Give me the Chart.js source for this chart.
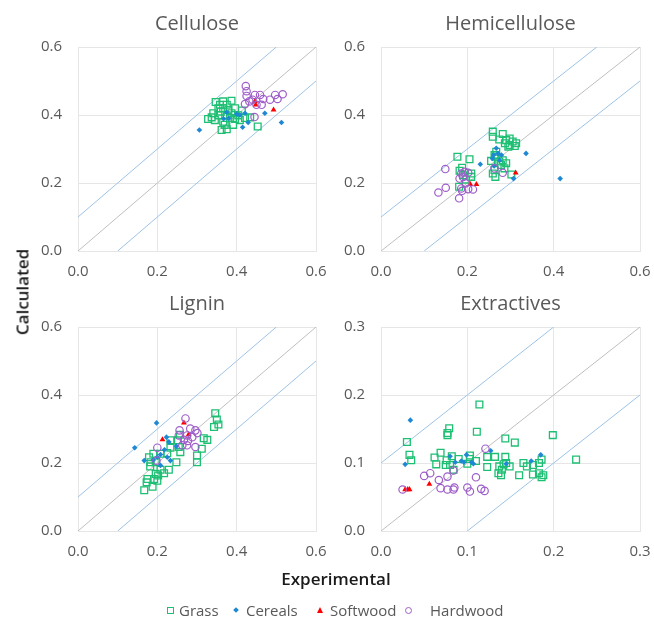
<!DOCTYPE html>
<html>
<head>
<meta charset="utf-8">
<script src="https://cdn.jsdelivr.net/npm/chart.js@4"></script>
<style>
  body { margin: 0; background: #fff; }
  #wrap { position: relative; width: 654px; height: 619px; font-family: "Open Sans", sans-serif; }
  canvas { position: absolute; }
  .lbl { position: absolute; color: #595959; font-size: 15px; line-height: 1; white-space: nowrap; }
  .axis { position: absolute; color: #1a1a1a; font-size: 17px; font-weight: 600; white-space: nowrap; }
  .mk { position: absolute; box-sizing: border-box; }
</style>
</head>
<body>
<div id="wrap">
  <canvas id="c1" width="330" height="290" style="left:0;top:0"></canvas>
  <canvas id="c2" width="351" height="290" style="left:303px;top:0"></canvas>
  <canvas id="c3" width="330" height="290" style="left:0;top:280px"></canvas>
  <canvas id="c4" width="351" height="290" style="left:303px;top:280px"></canvas>

  <div class="axis" style="left:22px;top:292px;transform:translate(-50%,-50%) rotate(-90deg)">Calculated</div>
  <div class="axis" style="left:336px;top:578px;transform:translate(-50%,-50%)">Experimental</div>

  <div class="mk" style="left:167px;top:607px;width:7px;height:7px;border:1.3px solid #1dbf73"></div>
  <div class="lbl" style="left:179px;top:603px">Grass</div>
  <div class="mk" style="left:234px;top:608px;width:4px;height:4px;background:#1e88d4;transform:rotate(45deg)"></div>
  <div class="lbl" style="left:246px;top:603px">Cereals</div>
  <div class="mk" style="left:316.5px;top:607px;width:0;height:0;border-left:3.5px solid transparent;border-right:3.5px solid transparent;border-bottom:6px solid #ff0000"></div>
  <div class="lbl" style="left:330px;top:603px">Softwood</div>
  <div class="mk" style="left:404.5px;top:607px;width:7px;height:7px;border:1.2px solid #9e5ec9;border-radius:50%"></div>
  <div class="lbl" style="left:430px;top:603px">Hardwood</div>
</div>
<script>
// axis ticks
var ticksMain = [0, 0.2, 0.4, 0.6];
var ticksExtr = [0, 0.1, 0.2, 0.3];

// guide lines: 1:1 and +/- 0.1
var guideMain = [[[0, 0], [0.6, 0.6]], [[0, 0.1], [0.5, 0.6]], [[0.1, 0], [0.6, 0.5]]];
var guideExtr = [[[0, 0], [0.3, 0.3]], [[0, 0.1], [0.2, 0.3]], [[0.1, 0], [0.3, 0.2]]];

// Cellulose [experimental, calculated]
var cellGrass = [[0.347,0.438],[0.366,0.44],[0.387,0.442],[0.375,0.43],[0.354,0.42],[0.36,0.41],[0.341,0.405],[0.328,0.388],[0.345,0.385],[0.366,0.38],[0.362,0.356],[0.375,0.358],[0.391,0.371],[0.383,0.391],[0.396,0.388],[0.413,0.413],[0.408,0.385],[0.421,0.391],[0.434,0.393],[0.453,0.366],[0.379,0.415],[0.366,0.42],[0.354,0.399],[0.375,0.399],[0.387,0.405],[0.396,0.42],[0.358,0.43],[0.337,0.393],[0.404,0.399],[0.37,0.371]];
var cellCereals = [[0.306,0.356],[0.375,0.408],[0.40,0.403],[0.408,0.40],[0.421,0.405],[0.415,0.364],[0.429,0.378],[0.367,0.389],[0.471,0.405],[0.513,0.378],[0.38,0.39]];
var cellSoftwood = [[0.446,0.44],[0.448,0.43],[0.493,0.415]];
var cellHardwood = [[0.423,0.485],[0.425,0.47],[0.425,0.456],[0.446,0.459],[0.459,0.459],[0.432,0.44],[0.44,0.445],[0.463,0.43],[0.484,0.445],[0.497,0.459],[0.516,0.461],[0.503,0.447],[0.421,0.432],[0.467,0.447],[0.45,0.43],[0.445,0.394]];

// Hemicellulose
var hemiGrass = [[0.177,0.277],[0.205,0.27],[0.182,0.236],[0.188,0.245],[0.209,0.228],[0.209,0.218],[0.181,0.189],[0.197,0.21],[0.19,0.223],[0.259,0.351],[0.259,0.336],[0.282,0.344],[0.274,0.328],[0.29,0.326],[0.298,0.331],[0.305,0.322],[0.313,0.317],[0.31,0.309],[0.295,0.307],[0.298,0.312],[0.287,0.317],[0.267,0.292],[0.263,0.282],[0.265,0.277],[0.255,0.265],[0.282,0.267],[0.29,0.258],[0.278,0.253],[0.286,0.243],[0.263,0.238],[0.259,0.228],[0.265,0.218],[0.302,0.225],[0.274,0.263]];
var hemiCereals = [[0.23,0.255],[0.336,0.287],[0.415,0.213],[0.307,0.213],[0.267,0.302],[0.261,0.282],[0.271,0.287],[0.258,0.272],[0.275,0.267],[0.279,0.282],[0.262,0.25]];
var hemiSoftwood = [[0.207,0.196],[0.221,0.196],[0.312,0.23]];
var hemiHardwood = [[0.149,0.241],[0.15,0.186],[0.133,0.172],[0.181,0.155],[0.186,0.228],[0.194,0.233],[0.202,0.23],[0.19,0.218],[0.182,0.213],[0.196,0.199],[0.186,0.184],[0.202,0.182],[0.213,0.181],[0.188,0.177],[0.282,0.23],[0.263,0.243]];

// Lignin
var ligGrass = [[0.346,0.346],[0.35,0.328],[0.354,0.313],[0.343,0.306],[0.317,0.273],[0.326,0.268],[0.312,0.242],[0.3,0.222],[0.3,0.202],[0.257,0.283],[0.252,0.267],[0.233,0.267],[0.254,0.247],[0.258,0.232],[0.248,0.202],[0.233,0.245],[0.225,0.229],[0.208,0.227],[0.19,0.227],[0.179,0.217],[0.183,0.202],[0.196,0.202],[0.182,0.19],[0.208,0.18],[0.229,0.18],[0.217,0.17],[0.196,0.168],[0.175,0.153],[0.192,0.153],[0.173,0.143],[0.188,0.13],[0.167,0.12],[0.2,0.148],[0.202,0.163]];
var ligCereals = [[0.198,0.318],[0.143,0.245],[0.167,0.207],[0.223,0.276],[0.218,0.239],[0.208,0.225],[0.19,0.209],[0.2,0.217],[0.233,0.207],[0.225,0.217],[0.248,0.249],[0.208,0.193],[0.229,0.262]];
var ligSoftwood = [[0.267,0.318],[0.213,0.269],[0.279,0.284]];
var ligHardwood = [[0.271,0.331],[0.256,0.296],[0.283,0.301],[0.296,0.296],[0.301,0.288],[0.275,0.281],[0.288,0.276],[0.267,0.268],[0.277,0.265],[0.263,0.252],[0.275,0.252],[0.296,0.247],[0.2,0.245],[0.198,0.207],[0.254,0.281]];

// Extractives
var extGrass = [[0.114,0.186],[0.079,0.151],[0.077,0.144],[0.077,0.141],[0.03,0.131],[0.111,0.146],[0.144,0.136],[0.155,0.13],[0.199,0.141],[0.226,0.105],[0.033,0.112],[0.035,0.104],[0.062,0.108],[0.069,0.115],[0.064,0.098],[0.076,0.104],[0.082,0.11],[0.09,0.106],[0.103,0.111],[0.103,0.106],[0.11,0.103],[0.1,0.099],[0.075,0.097],[0.08,0.097],[0.084,0.09],[0.123,0.109],[0.132,0.109],[0.123,0.094],[0.144,0.109],[0.137,0.095],[0.142,0.098],[0.149,0.095],[0.136,0.085],[0.14,0.09],[0.139,0.082],[0.145,0.1],[0.16,0.082],[0.165,0.1],[0.169,0.095],[0.176,0.097],[0.183,0.1],[0.186,0.105],[0.176,0.083],[0.183,0.085],[0.188,0.082],[0.186,0.079]];
var extCereals = [[0.034,0.163],[0.028,0.098],[0.08,0.11],[0.086,0.101],[0.093,0.103],[0.099,0.112],[0.105,0.101],[0.107,0.099],[0.127,0.118],[0.145,0.099],[0.174,0.103],[0.185,0.112],[0.096,0.101]];
var extSoftwood = [[0.028,0.061],[0.031,0.061],[0.033,0.061],[0.056,0.069]];
var extHardwood = [[0.025,0.061],[0.05,0.081],[0.057,0.085],[0.067,0.075],[0.077,0.08],[0.084,0.089],[0.069,0.063],[0.077,0.061],[0.084,0.061],[0.085,0.064],[0.1,0.064],[0.103,0.058],[0.11,0.079],[0.116,0.062],[0.12,0.059],[0.121,0.121]];

var GREEN = '#1dbf73', BLUE = '#1e88d4', RED = '#ff0000', PURPLE = '#9e5ec9';
var GRID = '#e6e6e6', TEXT = '#595959';

function pts(arr) {
  return arr.map(function (p) { return { x: p[0], y: p[1] }; });
}

function makePanel(id, title, grass, cereals, softwood, hardwood, guides, ticks) {
  var max = ticks[ticks.length - 1];
  var step = ticks[1] - ticks[0];
  var datasets = [
    { label: 'Hardwood', data: pts(hardwood), order: 1, pointStyle: 'circle', pointRadius: 3.7,
      borderColor: PURPLE, backgroundColor: 'rgba(0,0,0,0)', borderWidth: 1.2 },
    { label: 'Softwood', data: pts(softwood), order: 2, pointStyle: 'triangle', pointRadius: 3.4,
      borderColor: RED, backgroundColor: RED, borderWidth: 0 },
    { label: 'Cereals', data: pts(cereals), order: 3, pointStyle: 'rectRot', pointRadius: 2.8,
      borderColor: BLUE, backgroundColor: BLUE, borderWidth: 0 },
    { label: 'Grass', data: pts(grass), order: 4, pointStyle: 'rect', pointRadius: 4.8,
      borderColor: GREEN, backgroundColor: 'rgba(0,0,0,0)', borderWidth: 1.3 }
  ];
  guides.forEach(function (g, i) {
    datasets.push({ data: pts(g), showLine: true, pointRadius: 0, order: 10,
      borderColor: i === 0 ? '#bfbfbf' : '#9dc3e6', borderWidth: 1 });
  });
  var tickFont = { family: 'Open Sans', size: 15 };
  // keep plot area fixed: tick labels must not push the layout
  function noPad(s) { s.paddingLeft = 0; s.paddingRight = 0; s.paddingTop = 0; s.paddingBottom = 0; }
  return new Chart(document.getElementById(id), {
    type: 'scatter',
    data: { datasets: datasets },
    options: {
      responsive: false,
      animation: false,
      layout: { padding: { left: 0, right: 14, top: 0, bottom: 0 } },
      plugins: {
        legend: { display: false },
        tooltip: { enabled: false },
        title: { display: true, text: title, color: TEXT, fullSize: false,
          font: { family: 'Open Sans', size: 20, weight: 'normal' },
          padding: { top: 12, bottom: 11 } }
      },
      scales: {
        x: { type: 'linear', min: 0, max: max,
          afterFit: function (s) { s.height = 39; noPad(s); },
          ticks: { stepSize: step, color: TEXT, font: tickFont, padding: 12,
            callback: function (v) { return v.toFixed(1); } },
          grid: { color: GRID, drawTicks: false },
          border: { color: GRID } },
        y: { type: 'linear', min: 0, max: max,
          afterFit: function (s) { s.width = 78; noPad(s); },
          ticks: { stepSize: step, color: TEXT, font: tickFont, padding: 16,
            callback: function (v) { return v.toFixed(1); } },
          grid: { color: GRID, drawTicks: false },
          border: { color: GRID } }
      }
    }
  });
}

makePanel('c1', 'Cellulose', cellGrass, cellCereals, cellSoftwood, cellHardwood, guideMain, ticksMain);
makePanel('c2', 'Hemicellulose', hemiGrass, hemiCereals, hemiSoftwood, hemiHardwood, guideMain, ticksMain);
makePanel('c3', 'Lignin', ligGrass, ligCereals, ligSoftwood, ligHardwood, guideMain, ticksMain);
makePanel('c4', 'Extractives', extGrass, extCereals, extSoftwood, extHardwood, guideExtr, ticksExtr);
</script>
</body>
</html>
